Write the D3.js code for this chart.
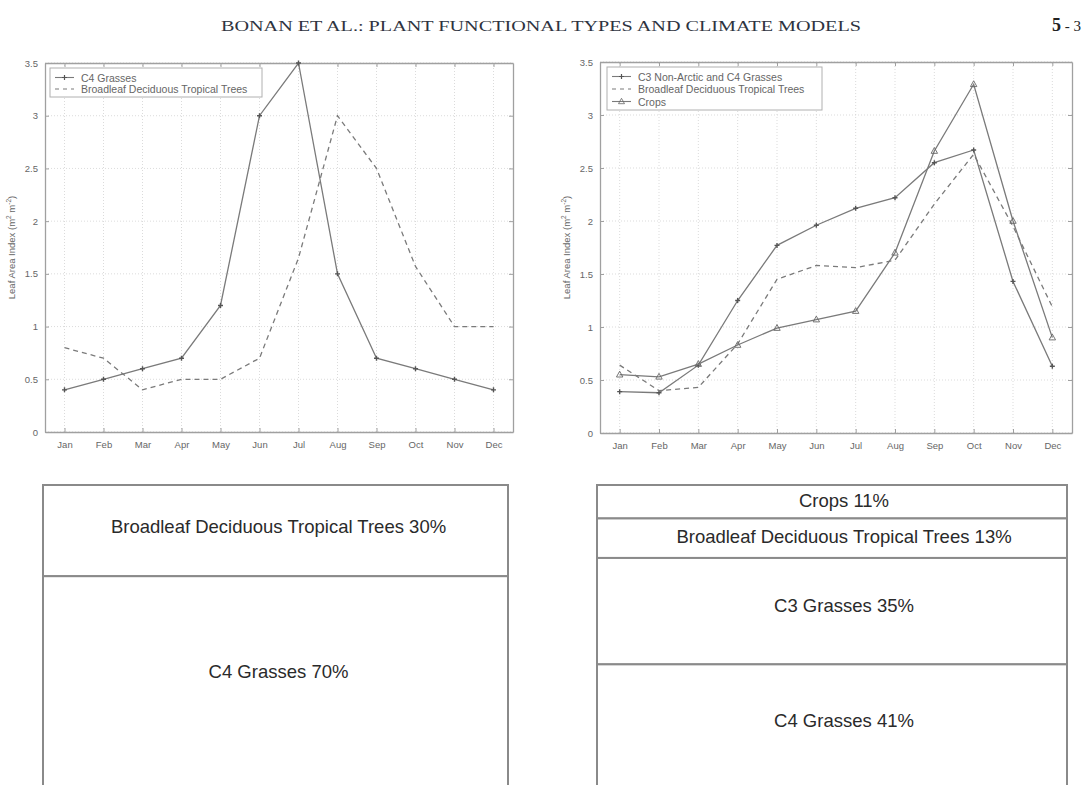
<!DOCTYPE html>
<html><head><meta charset="utf-8">
<script src="https://cdn.jsdelivr.net/npm/d3@7"></script>
<style>body{margin:0;background:#fff}svg{display:block}</style>
</head><body>
<svg id="fig" width="1088" height="785"></svg>
<script>
// ---- data ----
const months = ["Jan","Feb","Mar","Apr","May","Jun","Jul","Aug","Sep","Oct","Nov","Dec"];
const yTicks = [0, 0.5, 1, 1.5, 2, 2.5, 3, 3.5];
// left panel
const leftC4Grasses = [0.4, 0.5, 0.6, 0.7, 1.2, 3.0, 3.5, 1.5, 0.7, 0.6, 0.5, 0.4];
const leftBroadleaf = [0.8, 0.7, 0.4, 0.5, 0.5, 0.7, 1.65, 3.0, 2.5, 1.57, 1.0, 1.0];
// right panel
const rightC3C4Grasses = [0.39, 0.38, 0.64, 1.25, 1.77, 1.96, 2.12, 2.22, 2.55, 2.67, 1.43, 0.63];
const rightBroadleaf = [0.64, 0.4, 0.43, 0.84, 1.45, 1.58, 1.56, 1.63, 2.16, 2.63, 1.95, 1.19];
const rightCrops = [0.55, 0.53, 0.65, 0.83, 0.99, 1.07, 1.15, 1.70, 2.66, 3.29, 2.0, 0.9];
// PFT shares
const leftShareNames = ["Broadleaf Deciduous Tropical Trees", "C4 Grasses"];
const leftSharePcts = [30, 70];
const rightShareNames = ["Crops", "Broadleaf Deciduous Tropical Trees", "C3 Grasses", "C4 Grasses"];
const rightSharePcts = [11, 13, 35, 41];

const svg = d3.select("#fig");
const LINE = "#7a7a7a", GRID = "#d2d2d2", TXT = "#666";
const SANS = "Liberation Sans, Arial, sans-serif";

// header
svg.append("text").attr("x", 541).attr("y", 31).attr("text-anchor", "middle")
  .attr("font-family", "Liberation Serif, serif").attr("font-size", 15.5).attr("fill", "#2e3340")
  .attr("textLength", 640).attr("lengthAdjust", "spacingAndGlyphs")
  .text("BONAN ET AL.: PLANT FUNCTIONAL TYPES AND CLIMATE MODELS");
svg.append("text").attr("x", 1081).attr("y", 31).attr("text-anchor", "end")
  .attr("font-family", "Liberation Serif, serif").attr("font-size", 15).attr("fill", "#222")
  .html('<tspan font-weight="bold" font-size="18">5</tspan> - 3');

function panel(cfg) {
  const x = d3.scaleLinear().domain([0.5, 12.5]).range([cfg.x0, cfg.x1]);
  const y = d3.scaleLinear().domain([0, 3.5]).range([cfg.y0, cfg.y1]);
  const g = svg.append("g");
  // grid
  g.selectAll(".vg").data(d3.range(1, 13)).join("line")
    .attr("x1", d => x(d)).attr("x2", d => x(d)).attr("y1", y(0)).attr("y2", y(3.5))
    .attr("stroke", GRID).attr("stroke-width", 0.8).attr("stroke-dasharray", "1,2");
  g.selectAll(".hg").data(yTicks).join("line")
    .attr("x1", x(0.5)).attr("x2", x(12.5)).attr("y1", d => y(d)).attr("y2", d => y(d))
    .attr("stroke", GRID).attr("stroke-width", 0.8).attr("stroke-dasharray", "1,2");
  // axes
  const xa = g.append("g").attr("transform", `translate(0,${y(0)})`)
    .call(d3.axisBottom(x).tickValues(d3.range(1, 13)).tickFormat(d => months[d - 1]).tickSizeInner(-4).tickSizeOuter(0).tickPadding(9));
  const ya = g.append("g").attr("transform", `translate(${x(0.5)},0)`)
    .call(d3.axisLeft(y).tickValues(yTicks).tickFormat(d3.format("")).tickSizeInner(-4).tickSizeOuter(0).tickPadding(7));
  const xt = g.append("g").attr("transform", `translate(0,${y(3.5)})`)
    .call(d3.axisTop(x).tickValues(d3.range(1, 13)).tickFormat("").tickSizeInner(-4).tickSizeOuter(0));
  const yr = g.append("g").attr("transform", `translate(${x(12.5)},0)`)
    .call(d3.axisRight(y).tickValues(yTicks).tickFormat("").tickSizeInner(-4).tickSizeOuter(0));
  [xa, ya, xt, yr].forEach(a => {
    a.select(".domain").attr("stroke", "#a0a0a0").attr("stroke-width", 1.3);
    a.selectAll(".tick line").attr("stroke", "#a0a0a0");
    a.selectAll("text").attr("font-family", SANS).attr("font-size", 9.5).attr("fill", TXT);
  });
  // y label
  g.append("text").attr("transform", `translate(${cfg.x0 - 30},${(cfg.y0 + cfg.y1) / 2}) rotate(-90)`)
    .attr("text-anchor", "middle").attr("font-family", SANS)
    .attr("font-size", 9.5).attr("fill", TXT)
    .html('Leaf Area Index (m<tspan dy="-4" font-size="6.5">2</tspan><tspan dy="4"> m</tspan><tspan dy="-4" font-size="6.5">-2</tspan><tspan dy="4">)</tspan>');
  const line = d3.line().x((d, i) => x(i + 1)).y(d => y(d));
  cfg.series.forEach(s => {
    g.append("path").datum(s.values).attr("d", line).attr("fill", "none")
      .attr("stroke", LINE).attr("stroke-width", 1.3).attr("stroke-dasharray", s.dash ? "5,4" : null);
    if (s.marker === "plus") {
      g.selectAll(null).data(s.values).join("path")
        .attr("d", (d, i) => { const cx = x(i + 1), cy = y(d); return `M${cx - 2.5},${cy}H${cx + 2.5}M${cx},${cy - 2.5}V${cy + 2.5}`; })
        .attr("stroke", "#555").attr("stroke-width", 1.4);
    } else if (s.marker === "tri") {
      g.selectAll(null).data(s.values).join("path")
        .attr("d", (d, i) => { const cx = x(i + 1), cy = y(d); return `M${cx},${cy - 3.5}L${cx + 3.2},${cy + 2.3}L${cx - 3.2},${cy + 2.3}Z`; })
        .attr("fill", "none").attr("stroke", "#666").attr("stroke-width", 0.9);
    }
  });
  // legend
  const L = cfg.legend;
  g.append("rect").attr("x", L.x).attr("y", L.y).attr("width", L.w).attr("height", L.h)
    .attr("fill", "#fff").attr("stroke", "#b0b0b0").attr("stroke-width", 1);
  cfg.series.forEach((s, i) => {
    const ly = L.y + L.first + i * L.dy;
    g.append("line").attr("x1", L.x + 5).attr("x2", L.x + 24).attr("y1", ly).attr("y2", ly)
      .attr("stroke", LINE).attr("stroke-width", 1.1).attr("stroke-dasharray", s.dash ? "4,4" : null);
    const cx = L.x + 14.5;
    if (s.marker === "plus") g.append("path").attr("d", `M${cx - 2.5},${ly}H${cx + 2.5}M${cx},${ly - 2.5}V${ly + 2.5}`).attr("stroke", "#555").attr("stroke-width", 1.2);
    if (s.marker === "tri") g.append("path").attr("d", `M${cx},${ly - 3.2}L${cx + 3},${ly + 2.2}L${cx - 3},${ly + 2.2}Z`).attr("fill", "none").attr("stroke", "#666").attr("stroke-width", 0.8);
    g.append("text").attr("x", L.x + 31).attr("y", ly).attr("dominant-baseline", "central")
      .attr("font-family", SANS).attr("font-size", 10.5).attr("fill", TXT).text(s.name);
  });
}

panel({ x0: 45, x1: 513, y0: 432, y1: 63,
  series: [
    { name: "C4 Grasses", values: leftC4Grasses, marker: "plus" },
    { name: "Broadleaf Deciduous Tropical Trees", values: leftBroadleaf, dash: true }
  ],
  legend: { x: 50, y: 68, w: 212, h: 29, first: 9.5, dy: 11.5 } });

panel({ x0: 600, x1: 1072, y0: 433, y1: 62,
  series: [
    { name: "C3 Non-Arctic and C4 Grasses", values: rightC3C4Grasses, marker: "plus" },
    { name: "Broadleaf Deciduous Tropical Trees", values: rightBroadleaf, dash: true },
    { name: "Crops", values: rightCrops, marker: "tri" }
  ],
  legend: { x: 607, y: 67, w: 215, h: 43, first: 9.5, dy: 12.5 } });

// share boxes
function shareBox(names, pcts, x0, x1, top, textDx) {
  const total = d3.sum(pcts);
  const y = d3.scaleLinear().domain([0, total]).range([top, top + 304]);
  const cum = d3.cumsum(pcts);
  const g = svg.append("g");
  names.forEach((n, i) => {
    const a = y(cum[i] - pcts[i]), b = y(cum[i]);
    g.append("rect").attr("x", x0).attr("y", a).attr("width", x1 - x0).attr("height", b - a)
      .attr("fill", "#fff").attr("stroke", "#8a8a8a").attr("stroke-width", 2);
    g.append("text").attr("x", (x0 + x1) / 2 + textDx).attr("y", (a + b) / 2 - (b - a) * 0.05)
      .attr("dominant-baseline", "central").attr("text-anchor", "middle")
      .attr("font-family", SANS).attr("font-size", 18.5).attr("fill", "#2a2a2a")
      .text(`${n} ${pcts[i]}%`);
  });
}
shareBox(leftShareNames, leftSharePcts, 43, 508, 485, 3);
shareBox(rightShareNames, rightSharePcts, 597, 1067, 485, 12);
</script>
</body></html>
